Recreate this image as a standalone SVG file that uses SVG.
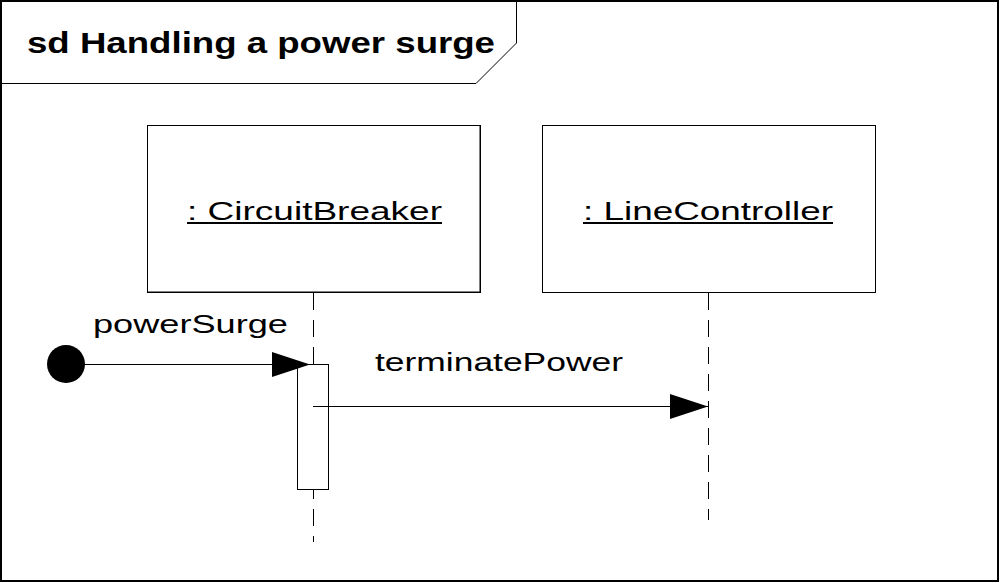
<svg xmlns="http://www.w3.org/2000/svg" width="1000" height="583" viewBox="0 0 1000 583">
<style>
.t{font-family:"Liberation Sans",Arial,sans-serif;font-size:25px;fill:#000}
.tb{font-family:"Liberation Sans",Arial,sans-serif;font-size:29px;font-weight:bold;fill:#000}
.ln{stroke:#000;stroke-width:1;fill:none}
.ll{stroke:#000;stroke-width:1;fill:none;stroke-dasharray:17 10}
.box{fill:#fff;stroke:#000;stroke-width:1}
</style>
<defs>
<marker id="ah" markerUnits="userSpaceOnUse" markerWidth="40" markerHeight="30" refX="38" refY="12.5" orient="auto">
<path d="M0,0 L38,12.5 L0,25 Z" fill="#000"/>
</marker>
</defs>
<rect width="1000" height="583" fill="#fff"/>
<g id="frame">
<rect x="1" y="1" width="997" height="580" fill="none" stroke="#000" stroke-width="2"/>
<polyline class="ln" points="1,83.5 476,83.5 516.5,43 516.5,1"/>
<text class="tb" x="27" y="53" textLength="468" lengthAdjust="spacingAndGlyphs">sd Handling a power surge</text>
</g>
<g id="connectors">
<line class="ll" x1="313.5" y1="293" x2="313.5" y2="542"/>
<line class="ll" x1="708.5" y1="293" x2="708.5" y2="520"/>
</g>
<g id="circuitBreaker">
<rect class="box" x="147.5" y="125.5" width="333" height="167"/>
<polyline class="ln" stroke-width="2" points="147,292 480,292 480,125"/>
<text class="t" x="187" y="220" textLength="255" lengthAdjust="spacingAndGlyphs">: CircuitBreaker</text>
<rect x="187" y="222" width="255" height="2" fill="#000"/>
</g>
<g id="lineController">
<rect class="box" x="542.5" y="125.5" width="333" height="167" stroke-width="2"/>
<text class="t" x="583" y="220" textLength="250" lengthAdjust="spacingAndGlyphs">: LineController</text>
<rect x="583" y="222" width="250" height="2" fill="#000"/>
</g>
<g id="activation">
<rect class="box" x="297.5" y="364.5" width="31" height="125"/>
<polyline class="ln" stroke-width="2" points="297.5,364 297.5,489.5 329,489.5"/>
</g>
<g id="initial">
<circle cx="66" cy="364" r="19" fill="#000"/>
</g>
<g id="messages">
<line class="ln" x1="66" y1="364.5" x2="310" y2="364.5" marker-end="url(#ah)"/>
<text class="t" x="93" y="333" textLength="195" lengthAdjust="spacingAndGlyphs">powerSurge</text>
<line class="ln" x1="313" y1="406.5" x2="708" y2="406.5" marker-end="url(#ah)"/>
<text class="t" x="375" y="371" textLength="248" lengthAdjust="spacingAndGlyphs">terminatePower</text>
</g>
</svg>
